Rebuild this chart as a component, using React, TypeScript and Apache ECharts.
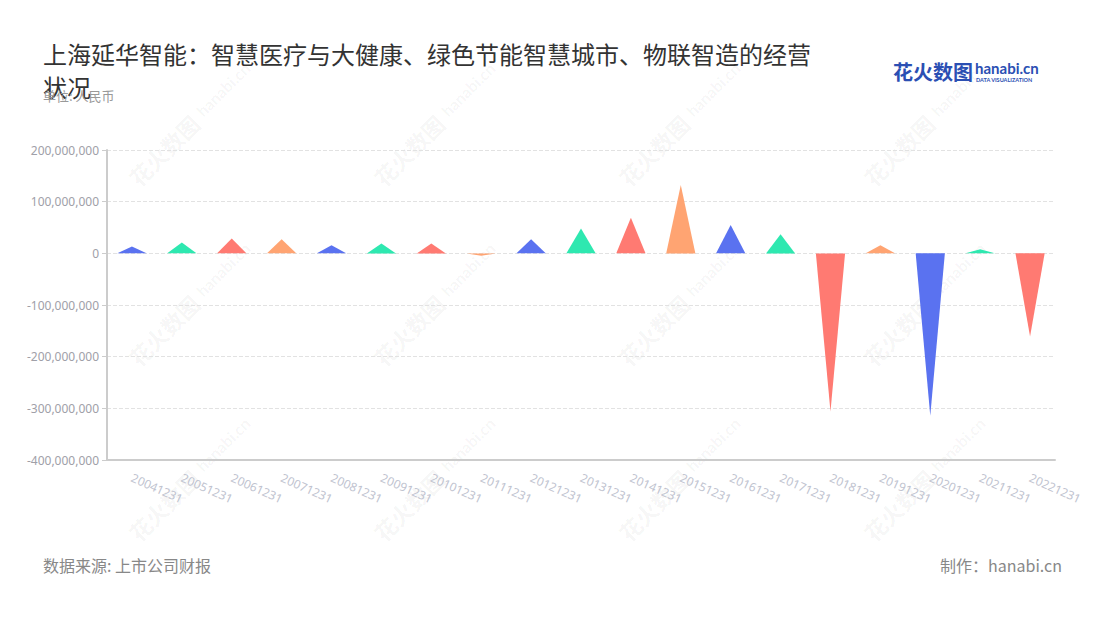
import React, { useEffect, useRef } from "react";
import * as echarts from "echarts";

const categories = [
  "20041231", "20051231", "20061231", "20071231", "20081231", "20091231", "20101231",
  "20111231", "20121231", "20131231", "20141231", "20151231", "20161231", "20171231",
  "20181231", "20191231", "20201231", "20211231", "20221231",
];
const values = [
  13500000, 21000000, 29000000, 27000000, 15500000, 19000000, 19000000,
  -5000000, 27000000, 48000000, 69000000, 132000000, 55000000, 37000000,
  -306000000, 15500000, -314000000, 8000000, -161000000,
];
const palette = ["#5a72f0", "#2ee8b0", "#ff7a72", "#ffa472"];
const yTicks = { min: -400000000, max: 200000000, interval: 100000000 };
const titleText = "上海延华智能：智慧医疗与大健康、绿色节能智慧城市、物联智造的经营\n状况";
const unitText = "单位: 人民币";
const sourceText = "数据来源: 上市公司财报";
const makerText = "制作：hanabi.cn";

const wmXs = [165, 410, 655, 900];
const wmYs = [150, 330, 505];

export default function App() {
  const ref = useRef<HTMLDivElement>(null);
  useEffect(() => {
    const chart = echarts.init(ref.current!, null, { renderer: "svg" });
    const watermarks: any[] = [];
    wmXs.forEach((x) =>
      wmYs.forEach((y) => {
        watermarks.push({
          type: "group",
          x,
          y,
          rotation: Math.PI / 4,
          silent: true,
          z: 0,
          children: [
            {
              type: "text",
              x: -45,
              y: -12,
              style: { text: "花火数图", fontSize: 22, fontWeight: "bold", fill: "rgba(0,0,0,0.05)", fontFamily: "Noto Sans CJK SC" },
            },
            {
              type: "text",
              x: 50,
              y: -10,
              style: { text: "hanabi.cn", fontSize: 16, fontWeight: "bold", fill: "rgba(0,0,0,0.045)", fontFamily: "Lato" },
            },
          ],
        });
      })
    );
    chart.setOption({
      animation: false,
      backgroundColor: "#fff",
      title: [
        {
          text: titleText,
          left: 43,
          top: 37,
          padding: 0,
          textStyle: { fontSize: 24, fontWeight: "normal", color: "#333", lineHeight: 33, fontFamily: "Noto Sans CJK SC" },
        },
        {
          text: unitText,
          left: 43,
          top: 89,
          padding: 0,
          textStyle: { fontSize: 13, fontWeight: "normal", color: "#999", fontFamily: "Noto Sans CJK SC" },
        },
      ],
      grid: { left: 107, right: 45, top: 150, bottom: 160 },
      xAxis: {
        type: "category",
        data: categories,
        axisLine: { onZero: false, lineStyle: { color: "#ccc", width: 2 } },
        axisTick: { alignWithLabel: true, lineStyle: { color: "#ccc" } },
        axisLabel: { rotate: -24, color: "#c0c3cf", fontSize: 12, margin: 17, interval: 0, fontFamily: "Noto Sans" },
        splitLine: { show: false },
      },
      yAxis: {
        type: "value",
        min: yTicks.min,
        max: yTicks.max,
        interval: yTicks.interval,
        axisLine: { show: true, lineStyle: { color: "#ccc", width: 2 } },
        axisTick: { show: true, length: 5, lineStyle: { color: "#ccc" } },
        axisLabel: {
          color: "#a0a0a8",
          fontSize: 12,
          fontFamily: "Noto Sans",
          formatter: (v: number) => v.toLocaleString("en-US"),
        },
        splitLine: { lineStyle: { type: "dashed", color: "#e2e2e2" } },
      },
      series: [
        {
          type: "pictorialBar",
          data: values.map((v, i) => ({ value: v, itemStyle: { color: palette[i % palette.length] } })),
          symbol: "triangle",
          barWidth: 29,
          symbolSize: ["100%", "100%"],
          z: 10,
        },
      ],
      graphic: [
        ...watermarks,
        {
          type: "text",
          left: 43,
          top: 557,
          style: { text: sourceText, fontSize: 16, fill: "#888", fontFamily: "Noto Sans CJK SC" },
        },
        {
          type: "text",
          right: 38,
          top: 557,
          style: { text: makerText, fontSize: 16, fill: "#888", fontFamily: "Noto Sans CJK SC" },
        },
        {
          type: "text",
          left: 893,
          top: 61,
          style: { text: "花火数图", fontSize: 20, fontWeight: "bold", fill: "#2b4fb3", fontFamily: "Noto Sans CJK SC" },
        },
        {
          type: "text",
          left: 975,
          top: 60,
          style: { text: "hanabi.cn", fontSize: 15, fontWeight: "bold", fill: "#2b4fb3", fontFamily: "Lato" },
        },
        {
          type: "text",
          left: 976,
          top: 77,
          style: { text: "DATA VISUALIZATION", fontSize: 5.5, fontWeight: "bold", fill: "#2b4fb3", fontFamily: "Lato" },
        },
      ],
    });
    return () => chart.dispose();
  }, []);
  return <div ref={ref} style={{ position: "fixed", left: 0, top: 0, width: 1100, height: 620 }} />;
}
